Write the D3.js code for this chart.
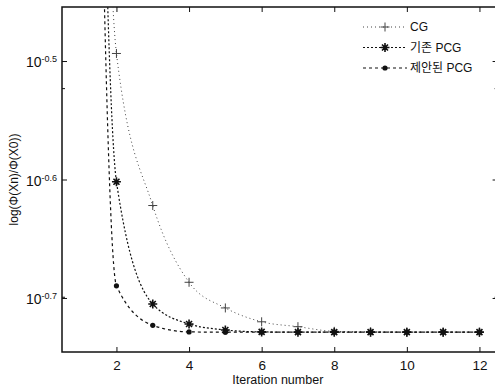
<!DOCTYPE html>
<html>
<head>
<meta charset="utf-8">
<script src="https://cdn.jsdelivr.net/npm/d3@7"></script>
<style>
  body { margin: 0; background: #fff; }
  svg { display: block; font-family: "Liberation Sans", Arial, "Noto Sans CJK KR", sans-serif; }
</style>
</head>
<body>
<div id="chart"></div>
<script>
// iteration number on x, ratio on a log y axis
const iterations = [1, 2, 3, 4, 5, 6, 7, 8, 9, 10, 11, 12];
const cgValues = [7.0, 0.3209, 0.2388, 0.2057, 0.1957, 0.1905, 0.1887, 0.1870, 0.1868, 0.1867, 0.1867, 0.1867];
const basicPcgValues = [7.0, 0.2501, 0.1972, 0.1897, 0.1875, 0.1868, 0.1867, 0.1867, 0.1867, 0.1867, 0.1867, 0.1867];
const proposedPcgValues = [7.0, 0.2043, 0.1892, 0.1868, 0.1867, 0.1867, 0.1867, 0.1867, 0.1867, 0.1867, 0.1867, 0.1867];
const seriesNames = ["CG", "기존 PCG", "제안된 PCG"];
const xTicks = [2, 4, 6, 8, 10, 12];
const yTickExponents = [-0.5, -0.6, -0.7];
const yMinorTicks = [0.2, 0.3];

const width = 495, height = 390;
const plotLeft = 62, plotRight = 497.6, plotTop = 7, plotBottom = 352;

const svg = d3.select("#chart").append("svg")
  .attr("width", width)
  .attr("height", height);

const x = d3.scaleLinear().domain([0.5, 12.5]).range([plotLeft, plotRight]);
const y = d3.scaleLog().domain([Math.pow(10, -0.7456), Math.pow(10, -0.4544)]).range([plotBottom, plotTop]);

svg.append("defs").append("clipPath").attr("id", "plot")
  .append("rect")
  .attr("x", plotLeft).attr("y", plotTop)
  .attr("width", plotRight - plotLeft).attr("height", plotBottom - plotTop);

// axes, ticks pointing inward like matlab
const yMajor = yTickExponents.map(e => Math.pow(10, e));

const gLeft = svg.append("g").attr("transform", `translate(${plotLeft},0)`)
  .call(d3.axisLeft(y).tickValues(yMajor).tickSizeInner(-5).tickSizeOuter(0).tickPadding(6));
gLeft.selectAll(".tick text").each(function(d, i) {
  const t = d3.select(this).text("")
    .attr("font-size", 14).attr("fill", "#111")
    .attr("font-family", "Liberation Sans, Arial, sans-serif")
    .attr("x", -5).attr("text-anchor", "end").attr("dy", "0.4em");
  t.append("tspan").text("10");
  t.append("tspan").text(yTickExponents[i].toFixed(1))
    .attr("font-size", 9).attr("dy", "-0.55em");
});

svg.append("g").attr("transform", `translate(${plotLeft},0)`)
  .call(d3.axisLeft(y).tickValues(yMinorTicks).tickSizeInner(-3).tickSizeOuter(0).tickFormat(""));

svg.append("g").attr("transform", `translate(${plotRight},0)`)
  .call(d3.axisRight(y).tickValues(yMajor).tickSizeInner(-5).tickSizeOuter(0).tickFormat(""));
svg.append("g").attr("transform", `translate(${plotRight},0)`)
  .call(d3.axisRight(y).tickValues(yMinorTicks).tickSizeInner(-3).tickSizeOuter(0).tickFormat(""));

const gBottom = svg.append("g").attr("transform", `translate(0,${plotBottom})`)
  .call(d3.axisBottom(x).tickValues(xTicks).tickSizeInner(-5).tickSizeOuter(0).tickPadding(8));
gBottom.selectAll(".tick text")
  .attr("font-size", 13.5).attr("fill", "#111")
  .attr("font-family", "Liberation Sans, Arial, sans-serif");

svg.append("g").attr("transform", `translate(0,${plotTop})`)
  .call(d3.axisTop(x).tickValues(xTicks).tickSizeInner(-5).tickSizeOuter(0).tickFormat(""));

svg.selectAll(".domain").remove();
svg.selectAll(".tick line").attr("stroke", "#111").attr("stroke-width", 1);

svg.append("rect")
  .attr("x", plotLeft).attr("y", plotTop)
  .attr("width", plotRight - plotLeft).attr("height", plotBottom - plotTop)
  .attr("fill", "none").attr("stroke", "#111").attr("stroke-width", 1.5);

// titles
svg.append("text")
  .attr("x", (plotLeft + plotRight) / 2 - 2).attr("y", 384)
  .attr("text-anchor", "middle").attr("font-size", 12.5).attr("fill", "#111")
  .text("Iteration number");

svg.append("text")
  .attr("transform", `translate(18,${(plotTop + plotBottom) / 2}) rotate(-90)`)
  .attr("text-anchor", "middle").attr("font-size", 12).attr("fill", "#111")
  .text("log(Φ(Xn)/Φ(X0))");

// series
const series = [
  { name: seriesNames[0], values: cgValues, dash: "1,3", width: 1, color: "#444", marker: "plus" },
  { name: seriesNames[1], values: basicPcgValues, dash: "2,2", width: 1.2, color: "#111", marker: "star" },
  { name: seriesNames[2], values: proposedPcgValues, dash: "3,3", width: 1.2, color: "#111", marker: "dot" }
];

const line = d3.line()
  .x((d, i) => x(iterations[i]))
  .y(d => y(d))
  .curve(d3.curveMonotoneX);

const plot = svg.append("g").attr("clip-path", "url(#plot)");

function drawMarker(g, type, cx, cy, color) {
  if (type === "plus") {
    g.append("path").attr("d", `M${cx - 4.5},${cy}H${cx + 4.5}M${cx},${cy - 4.5}V${cy + 4.5}`)
      .attr("stroke", color).attr("stroke-width", 1).attr("fill", "none");
  } else if (type === "star") {
    g.append("path")
      .attr("d", `M${cx - 4.5},${cy}H${cx + 4.5}M${cx},${cy - 4.5}V${cy + 4.5}` +
        `M${cx - 3},${cy - 3}L${cx + 3},${cy + 3}M${cx - 3},${cy + 3}L${cx + 3},${cy - 3}`)
      .attr("stroke", color).attr("stroke-width", 1.6).attr("fill", "none");
  } else {
    g.append("circle").attr("cx", cx).attr("cy", cy).attr("r", 2.6).attr("fill", color);
  }
}

series.forEach(s => {
  plot.append("path")
    .datum(s.values)
    .attr("d", line)
    .attr("fill", "none")
    .attr("stroke", s.color)
    .attr("stroke-width", s.width)
    .attr("stroke-dasharray", s.dash);

  const mg = plot.append("g");
  s.values.forEach((v, i) => drawMarker(mg, s.marker, x(iterations[i]), y(v), s.color));
});

// legend, no box
const legend = svg.append("g").attr("transform", "translate(363,27)");
series.forEach((s, i) => {
  const row = legend.append("g").attr("transform", `translate(0,${i * 20.5})`);
  row.append("line")
    .attr("x1", 0).attr("x2", 44).attr("y1", 0).attr("y2", 0)
    .attr("stroke", s.color).attr("stroke-width", s.width)
    .attr("stroke-dasharray", s.dash);
  drawMarker(row, s.marker, 22, 0, s.color);
  row.append("text")
    .attr("x", 47).attr("y", 0).attr("dy", "0.36em")
    .attr("font-size", 12).attr("fill", "#111")
    .text(s.name);
});
</script>
</body>
</html>
